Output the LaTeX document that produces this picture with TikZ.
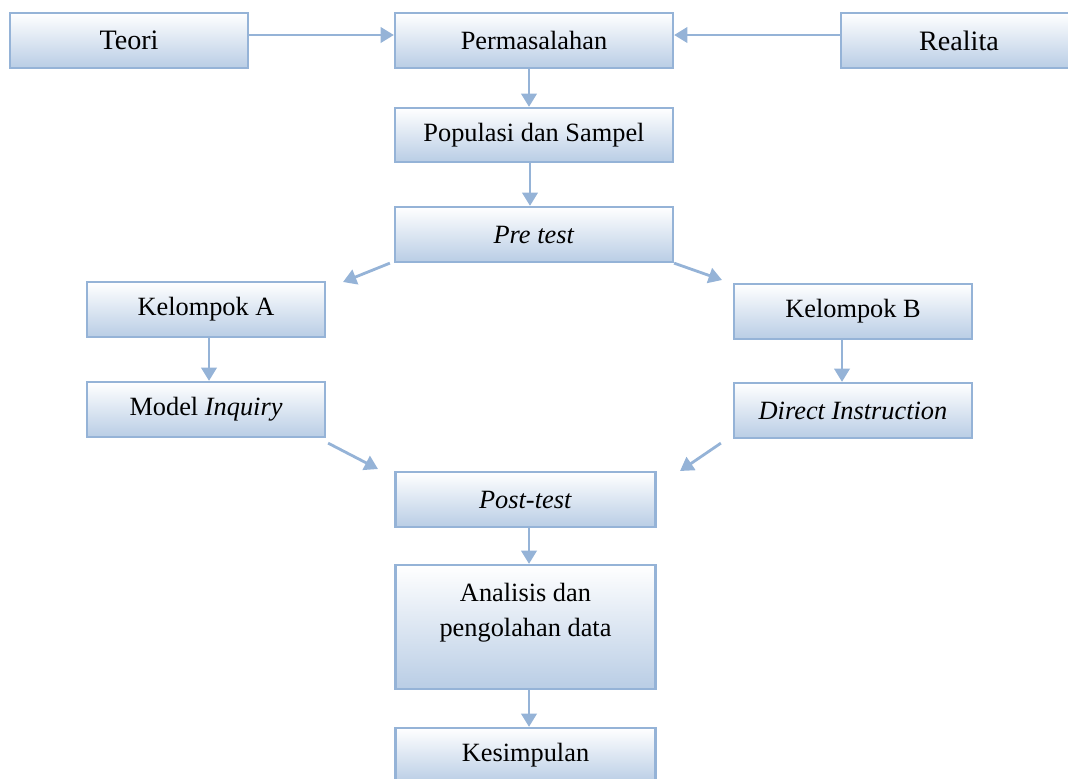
\documentclass[tikz,border=0pt]{standalone}
\usepackage{fontspec}
\setmainfont{Liberation Serif}
\usepackage{tikz}
\usetikzlibrary{positioning}
\usetikzlibrary{arrows.meta}
\usepackage{xcolor}
\definecolor{boxline}{HTML}{95B3D7}
\definecolor{boxfill}{HTML}{B9CDE5}

\begin{document}
\begin{tikzpicture}[x=0.02cm, y=-0.02cm,
  box/.style={draw=boxline, line width=1.3pt, top color=white, bottom color=boxfill,
    inner sep=0pt, minimum height=1.1cm, align=center, font=\fontsize{15}{19.8}\selectfont},
  flow/.style={draw=boxline, line width=1.6pt, -{Triangle[length=7.6pt, width=8.8pt]}}]
  \useasboundingbox (0,0) rectangle (1068,778);
  % boxes
  \node[box, minimum width=4.76cm, font=\fontsize{16}{19.8}\selectfont] (teori) at (129,40.5) {Teori};
  \node[box, minimum width=5.56cm] (masalah) at (534,40.5) {Permasalahan};
  \node[box, minimum width=4.72cm, font=\fontsize{16}{19.8}\selectfont] (realita) at (959,40.5) {Realita};
  \node[box, minimum width=5.56cm, minimum height=1.08cm] (populasi) at (534,135) {Populasi dan Sampel};
  \node[box, minimum width=5.56cm] (pretest) at (534,234.5) {\textit{Pre test}};
  \node[box, minimum width=4.76cm] (kelA) at (206,309.5) {Kelompok A};
  \node[box, minimum width=4.76cm] (inquiry) at (206,409.5) {Model \textit{Inquiry}};
  \node[box, minimum width=4.76cm] (kelB) at (853,311.5) {Kelompok B};
  \node[box, minimum width=4.76cm] (direct) at (853,410.5) {\textit{Direct Instruction}};
  \node[box, minimum width=5.2cm] (posttest) at (525.5,499.5) {\textit{Post-test}};
  \node[box, minimum width=5.2cm, minimum height=2.48cm] (analisis) at (525.5,627) {Analisis dan\\pengolahan data\\ \mbox{}};
  \node[box, minimum width=5.2cm] (simpulan) at (525.5,755.5) {Kesimpulan};
  % free ends of the slanted arrows
  \coordinate (toA) at (343,282);
  \coordinate (toB) at (722,280);
  \coordinate (fromA) at (378,469);
  \coordinate (fromB) at (680,471);
  % arrows
  \draw[flow] ([yshift=0.11cm]teori.east) -- ([yshift=0.11cm]masalah.west);
  \draw[flow] ([yshift=0.11cm]realita.west) -- ([yshift=0.11cm]masalah.east);
  \draw[flow] ([xshift=-0.1cm]masalah.south) -- ([xshift=-0.1cm]populasi.north);
  \draw[flow] ([xshift=-0.08cm]populasi.south) -- ([xshift=-0.08cm]pretest.north);
  \draw[flow] ([xshift=-0.08cm]pretest.south west) -- (toA);
  \draw[flow] (pretest.south east) -- (toB);
  \draw[flow] ([xshift=0.06cm]kelA.south) -- ([xshift=0.06cm]inquiry.north);
  \draw[flow] ([xshift=-0.22cm]kelB.south) -- ([xshift=-0.22cm]direct.north);
  \draw[flow] ([shift={(0.04cm,-0.1cm)}]inquiry.south east) -- (fromA);
  \draw[flow] ([shift={(-0.24cm,-0.08cm)}]direct.south west) -- (fromB);
  \draw[flow] ([xshift=0.07cm]posttest.south) -- ([xshift=0.07cm]analisis.north);
  \draw[flow] ([xshift=0.07cm]analisis.south) -- ([xshift=0.07cm]simpulan.north);
\end{tikzpicture}
\end{document}
